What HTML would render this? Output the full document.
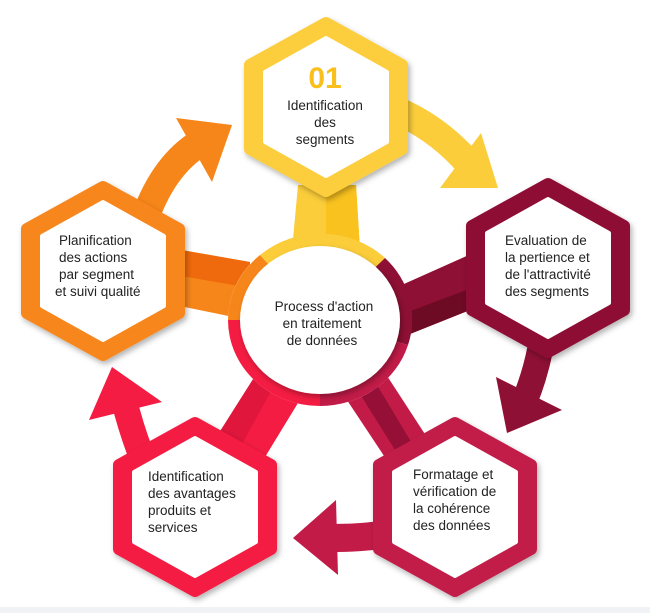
<!DOCTYPE html>
<html><head><meta charset="utf-8"><style>
html,body{margin:0;padding:0;background:#fff;}
svg{display:block}
text{font-family:"Liberation Sans",sans-serif;font-size:13.5px;fill:#222}
</style></head><body>
<svg width="650" height="613" viewBox="0 0 650 613" xmlns="http://www.w3.org/2000/svg">
<defs>
<filter id="sh" x="-20%" y="-20%" width="140%" height="140%"><feDropShadow dx="2" dy="3" stdDeviation="3" flood-color="#000" flood-opacity="0.3"/></filter>
</defs>
<rect x="0" y="607" width="650" height="6" fill="#f1f2f6"/>

<!-- connector bars -->
<polygon points="298,185 356,185 360,250 292,250" fill="#fbcd3a"/>
<polygon points="326,185 356,185 360,250 326,250" fill="#f9c21f"/>
<polygon points="170,248 250,262 248,320 170,304" fill="#f7861a"/>
<polygon points="170,248 250,262 250,288 170,274" fill="#ef6a0c"/>
<polygon points="395,288 480,250 490,302 400,338" fill="#8e1034"/>
<polygon points="400,315 488,282 490,302 400,338" fill="#6d0a24"/>
<polygon points="262,365 312,380 262,462 212,444" fill="#f41c42"/>
<polygon points="262,365 282,371 236,455 212,444" fill="#e0163d"/>
<polygon points="335,382 378,362 432,445 390,465" fill="#c21b48"/>
<polygon points="350,378 368,370 416,450 400,458" fill="#960f36"/>

<!-- center ring -->
<ellipse cx="320" cy="320" rx="92" ry="86" fill="#fff"/>
<path d="M320,320 L228,320 A92,86 0 0 1 260,255 Z" fill="#f7861a"/>
<path d="M320,320 L260,255 A92,86 0 0 1 385,258 Z" fill="#fbcd3a"/>
<path d="M320,320 L385,258 A92,86 0 0 1 408,345 Z" fill="#8e1034"/>
<path d="M320,320 L408,345 A92,86 0 0 1 320,406 Z" fill="#c21b48"/>
<path d="M320,320 L320,406 A92,86 0 0 1 228,320 Z" fill="#f41c42"/>
<ellipse cx="320" cy="320" rx="80" ry="74" fill="#fff" filter="url(#sh)"/>
<ellipse cx="320" cy="320" rx="73" ry="68" fill="#fff"/>

<!-- arrows -->
<path d="M148,210 Q168,160 205,140" stroke="#f7861a" stroke-width="28" fill="none"/>
<polygon points="176,118 232,125 212,182" fill="#f7861a"/>
<path d="M400,112 Q440,130 470,165" stroke="#fbcd3a" stroke-width="28" fill="none"/>
<polygon points="481,133 498,188 440,188" fill="#fbcd3a"/>
<path d="M540,350 Q535,375 525,400" stroke="#8e1034" stroke-width="26" fill="none"/>
<polygon points="496,377 562,410 507,433" fill="#8e1034"/>
<path d="M380,535 Q360,538 330,538" stroke="#c21b48" stroke-width="28" fill="none"/>
<polygon points="336,500 293,538 338,575" fill="#c21b48"/>
<path d="M140,452 Q130,425 124,400" stroke="#f41c42" stroke-width="26" fill="none"/>
<polygon points="89,420 112,367 162,402" fill="#f41c42"/>

<!-- hexagons -->
<g stroke-linejoin="round">
<polygon points="326,23 402,65 402,149 326,191 250,149 250,65" fill="#fccd3c" stroke="#fccd3c" stroke-width="12" filter="url(#sh)"/>
<polygon points="326,38 387,72 387,142 326,176 265,142 265,72" fill="#fff" stroke="#fff" stroke-width="4"/>
<polygon points="548,184 624,226 624,310 548,352 472,310 472,226" fill="#8e1034" stroke="#8e1034" stroke-width="12" filter="url(#sh)"/>
<polygon points="548,199 609,233 609,303 548,337 487,303 487,233" fill="#fff" stroke="#fff" stroke-width="4"/>
<polygon points="103,187 179,229 179,313 103,355 27,313 27,229" fill="#f7861a" stroke="#f7861a" stroke-width="12" filter="url(#sh)"/>
<polygon points="103,202 164,236 164,306 103,340 42,306 42,236" fill="#fff" stroke="#fff" stroke-width="4"/>
<polygon points="195,423 271,465 271,549 195,591 119,549 119,465" fill="#f41c42" stroke="#f41c42" stroke-width="12" filter="url(#sh)"/>
<polygon points="195,438 256,472 256,542 195,576 134,542 134,472" fill="#fff" stroke="#fff" stroke-width="4"/>
<polygon points="455,423 531,465 531,549 455,591 379,549 379,465" fill="#c21b48" stroke="#c21b48" stroke-width="12" filter="url(#sh)"/>
<polygon points="455,438 516,472 516,542 455,576 394,542 394,472" fill="#fff" stroke="#fff" stroke-width="4"/>
</g>

<!-- texts -->
<text x="325" y="88" text-anchor="middle" style="font-size:30px;font-weight:bold;fill:#f9bf1c">01</text>
<text x="325" y="110" text-anchor="middle">Identification</text>
<text x="325" y="127" text-anchor="middle">des</text>
<text x="325" y="144" text-anchor="middle">segments</text>

<text x="505" y="245">Evaluation de</text>
<text x="505" y="262">la pertience et</text>
<text x="505" y="279">de l'attractivité</text>
<text x="505" y="296">des segments</text>

<text x="59" y="245">Planification</text>
<text x="59" y="262">des actions</text>
<text x="59" y="279">par segment</text>
<text x="55" y="296">et suivi qualité</text>

<text x="148" y="481">Identification</text>
<text x="148" y="498">des avantages</text>
<text x="148" y="515">produits et</text>
<text x="148" y="532">services</text>

<text x="413" y="479">Formatage et</text>
<text x="413" y="496">vérification de</text>
<text x="413" y="513">la cohérence</text>
<text x="413" y="530">des données</text>

<text x="324" y="311" text-anchor="middle">Process d'action</text>
<text x="322" y="328" text-anchor="middle">en traitement</text>
<text x="322" y="345" text-anchor="middle">de données</text>
</svg>
</body></html>
